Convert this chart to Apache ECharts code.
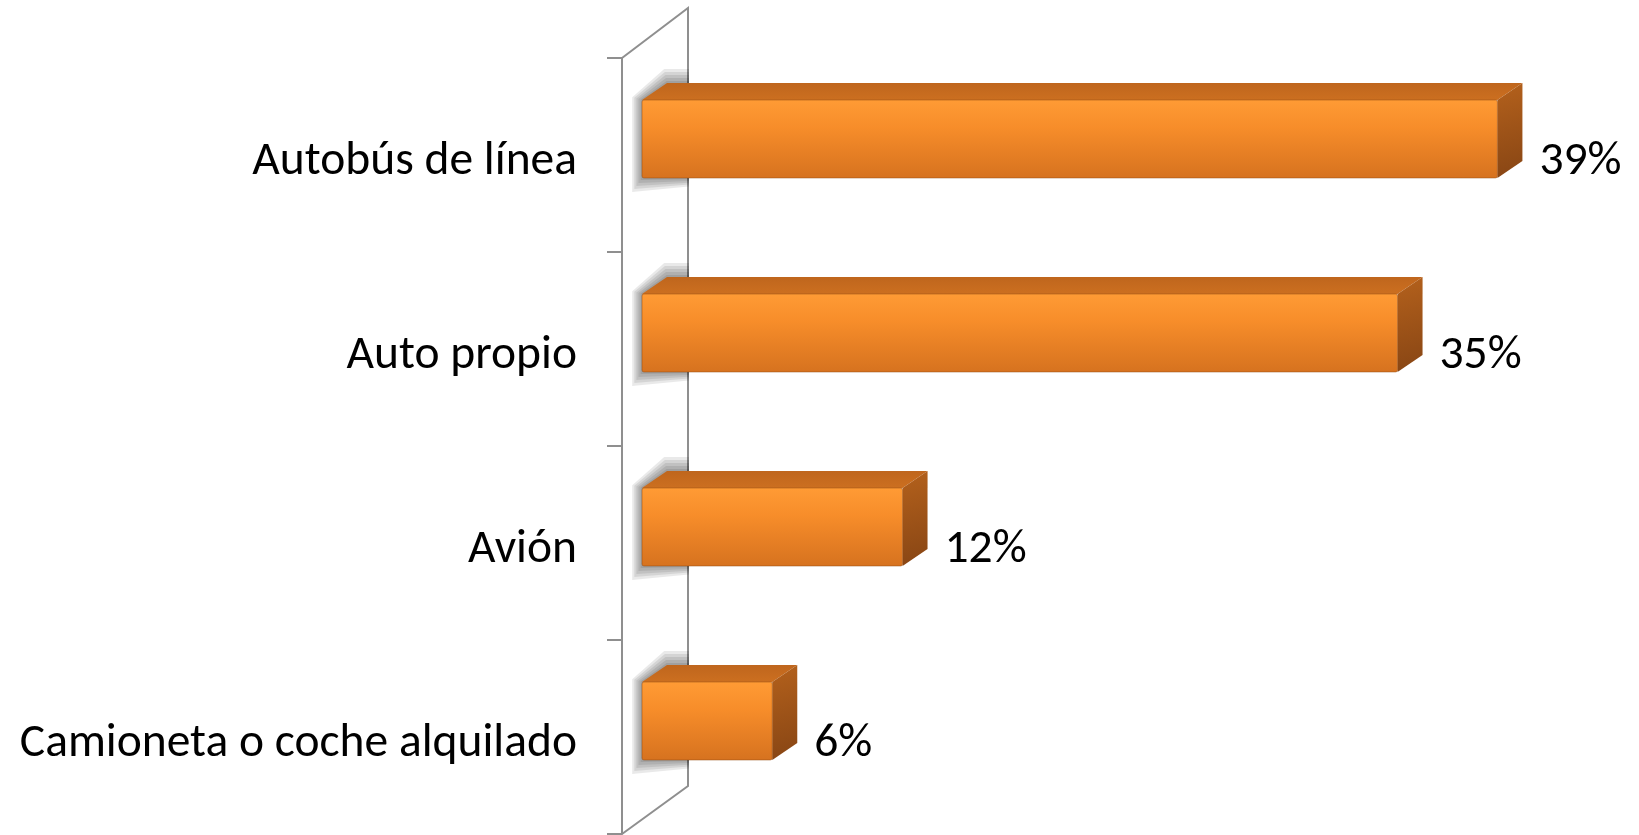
<!DOCTYPE html>
<html><head><meta charset="utf-8">
<script src="https://cdn.jsdelivr.net/npm/echarts@6/dist/echarts.min.js"></script>
<style>html,body{margin:0;padding:0;background:#fff}#c{width:1639px;height:835px}</style>
</head><body><div id="c"></div>
<script>
const categories = ['Autobús de línea', 'Auto propio', 'Avión', 'Camioneta o coche alquilado'];
const values = [39.4, 34.8, 12, 6];
const valueLabels = ['39%', '35%', '12%', '6%'];

const FONT = 'Carlito, Lato, sans-serif';
const FONT_SIZE = 47.5;
const WALL_DX = 66, WALL_DY = -50;
const FRONT_DX = 20, FRONT_DY = -16;
const BACK_DX = 45, BACK_DY = -33;

const chart = echarts.init(document.getElementById('c'), null, {renderer: 'canvas'});

function wallItem(params, api) {
  const band = api.size([0, 1])[1];
  const p0 = api.coord([0, 0]);
  const p3 = api.coord([0, categories.length - 1]);
  const x0 = p0[0];
  const top = p0[1] - band / 2;
  const bot = p3[1] + band / 2;
  return {
    type: 'polyline',
    shape: {points: [[x0, top], [x0 + WALL_DX, top + WALL_DY], [x0 + WALL_DX, bot + WALL_DY + 2], [x0, bot]]},
    style: {stroke: '#8f8f8f', lineWidth: 2, fill: null}
  };
}

function barItem(params, api) {
  const idx = api.value(1);
  const v = api.value(0);
  const band = api.size([0, 1])[1];
  const h = band * 0.402;
  const a = api.coord([0, idx]);
  const b = api.coord([v, idx]);
  const xl = a[0] + FRONT_DX, xr = b[0] + FRONT_DX;
  const yT = a[1] + FRONT_DY - h / 2, yB = a[1] + FRONT_DY + h / 2;
  const ddx = BACK_DX - FRONT_DX, ddy = BACK_DY - FRONT_DY;
  const children = [];
  // soft shadow on the wall: stacked translucent silhouettes
  [14, 11, 8, 5, 2].forEach(k => {
    children.push({
      type: 'polygon',
      shape: {points: [
        [xl - k * 0.7, yB + k], [xl - k * 0.7, yT - k * 0.2],
        [xl + ddx - k * 0.2, yT + ddy - k], [xl + ddx + 22, yT + ddy - k],
        [xl + ddx + 22, yB + k * 0.6]]},
      style: {fill: 'rgba(0,0,0,0.085)'}
    });
  });
  children.push(
    { // top face
      type: 'polygon',
      shape: {points: [[xl, yT], [xr, yT], [xr + ddx, yT + ddy], [xl + ddx, yT + ddy]]},
      style: {fill: new echarts.graphic.LinearGradient(0, 0, 0, 1, [
        {offset: 0, color: '#bf661d'}, {offset: 1, color: '#cc6f20'}])}
    },
    { // right face
      type: 'polygon',
      shape: {points: [[xr, yT], [xr + ddx, yT + ddy], [xr + ddx, yB + ddy], [xr, yB]]},
      style: {fill: new echarts.graphic.LinearGradient(0, 0, 1, 1, [
        {offset: 0, color: '#b4611c'}, {offset: 1, color: '#874514'}])}
    },
    { // front face
      type: 'rect',
      shape: {x: xl, y: yT, width: xr - xl, height: yB - yT, r: 2},
      style: {fill: new echarts.graphic.LinearGradient(0, 0, 0, 1, [
        {offset: 0, color: '#ff9b35'}, {offset: 0.35, color: '#f78d2a'}, {offset: 1, color: '#d6721f'}]),
        stroke: 'rgba(150,75,15,0.5)', lineWidth: 1}
    },
    { // value label
      type: 'text',
      style: {text: valueLabels[idx], x: b[0] + BACK_DX + 17, y: a[1] + 7,
        font: FONT_SIZE + 'px ' + FONT, fill: '#000', align: 'left', verticalAlign: 'middle'}
    }
  );
  return {type: 'group', children: children};
}

chart.setOption({
  animation: false,
  backgroundColor: '#fff',
  grid: {left: 622, top: 58, bottom: 1, right: 40, containLabel: false},
  xAxis: {type: 'value', min: 0, max: 45, show: false},
  yAxis: {
    type: 'category', data: categories, inverse: true,
    axisLine: {show: true, lineStyle: {color: '#8f8f8f', width: 2}},
    axisTick: {show: true, length: 15, lineStyle: {color: '#8f8f8f', width: 2}},
    axisLabel: {
      margin: 45, color: '#000', fontSize: FONT_SIZE, fontFamily: FONT,
      formatter: v => '{a|' + v + '}',
      rich: {a: {color: '#000', fontSize: FONT_SIZE, fontFamily: FONT, padding: [14, 0, 0, 0]}}
    },
    splitLine: {show: false}
  },
  series: [
    {type: 'custom', clip: false, z: 1, renderItem: wallItem, data: [[0, 0]], silent: true},
    {type: 'custom', clip: false, z: 2, renderItem: barItem,
     data: values.map((v, i) => [v, i]), encode: {x: 0, y: 1}}
  ]
});
</script></body></html>
